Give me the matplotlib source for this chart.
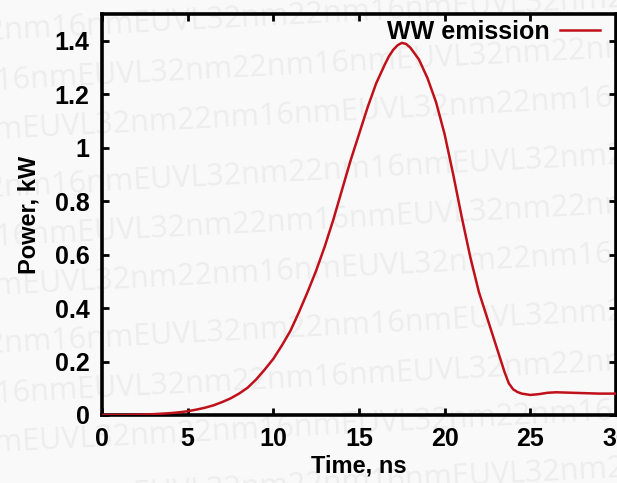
import matplotlib
matplotlib.use("Agg")
import matplotlib.pyplot as plt

# values
time_ns = [0, 1, 2, 3, 4, 4.5, 5, 5.5, 6, 6.5, 7, 7.5, 8, 8.5, 9, 9.5, 10, 10.5,
           11, 11.5, 12, 12.5, 13, 13.5, 14, 14.5, 15, 15.5, 16, 16.5, 16.75, 17,
           17.25, 17.5, 17.75, 18, 18.5, 19, 19.5, 20, 20.5, 21, 21.5, 22, 22.5,
           23, 23.25, 23.5, 23.75, 24, 24.25, 24.5, 25, 25.5, 26, 26.5, 27, 28,
           29, 30]
power_kw = [0.0, 0.0, 0.001, 0.003, 0.007, 0.01, 0.014, 0.02, 0.027, 0.036, 0.048,
            0.062, 0.08, 0.102, 0.133, 0.17, 0.21, 0.26, 0.315, 0.385, 0.46, 0.54,
            0.63, 0.73, 0.84, 0.95, 1.05, 1.15, 1.24, 1.31, 1.342, 1.366, 1.383,
            1.392, 1.388, 1.374, 1.33, 1.26, 1.17, 1.05, 0.9, 0.74, 0.59, 0.46,
            0.36, 0.26, 0.21, 0.16, 0.118, 0.096, 0.086, 0.08, 0.075, 0.078, 0.083,
            0.085, 0.084, 0.082, 0.08, 0.08]
series_label = "WW emission"
x_ticks = [0, 5, 10, 15, 20, 25, 30]
y_ticks = [0, 0.2, 0.4, 0.6, 0.8, 1.0, 1.2, 1.4]
y_tick_labels = ["0", "0.2", "0.4", "0.6", "0.8", "1", "1.2", "1.4"]
watermark = "22nm16nmEUVL32nm"

plt.rcParams["font.family"] = ["Liberation Sans", "DejaVu Sans"]

fig = plt.figure(figsize=(6.17, 4.83), dpi=100, facecolor="#f9f9f9")

# faint repeated watermark behind everything
for i in range(10):
    y = 1.0 - i * 0.108
    fig.text(-0.05 - (i % 3) * 0.09, y, watermark * 4, fontsize=22, color="#ededed",
             family="Open Sans", rotation=3, ha="left", va="center", zorder=-5)

ax = fig.add_axes([0.1653, 0.1408, 0.833, 0.8302])
ax.set_facecolor("none")
ax.plot(time_ns, power_kw, color="#c0101a", lw=1.8, label=series_label, zorder=3)

ax.set_xlim(0, 30)
ax.set_ylim(0, 1.5)
ax.set_xticks(x_ticks)
ax.set_yticks(y_ticks)
ax.set_yticklabels(y_tick_labels)
for s in ax.spines.values():
    s.set_linewidth(2.6)
ax.tick_params(direction="in", length=5, width=2, top=True, right=True,
               labelsize=18, pad=9)
for lb in ax.get_xticklabels() + ax.get_yticklabels():
    lb.set_fontweight("bold")
ax.set_xlabel("Time, ns", fontsize=17, fontweight="bold", labelpad=2)
ax.set_ylabel("Power, kW", fontsize=17, fontweight="bold", labelpad=10)

ax.legend(loc="upper right", bbox_to_anchor=(0.969, 0.985), markerfirst=False,
          frameon=False, borderpad=0, borderaxespad=0, handlelength=1.6,
          handletextpad=0.4, prop={"weight": "bold", "size": 18})

fig.savefig("out.png", dpi=100, facecolor=fig.get_facecolor())
